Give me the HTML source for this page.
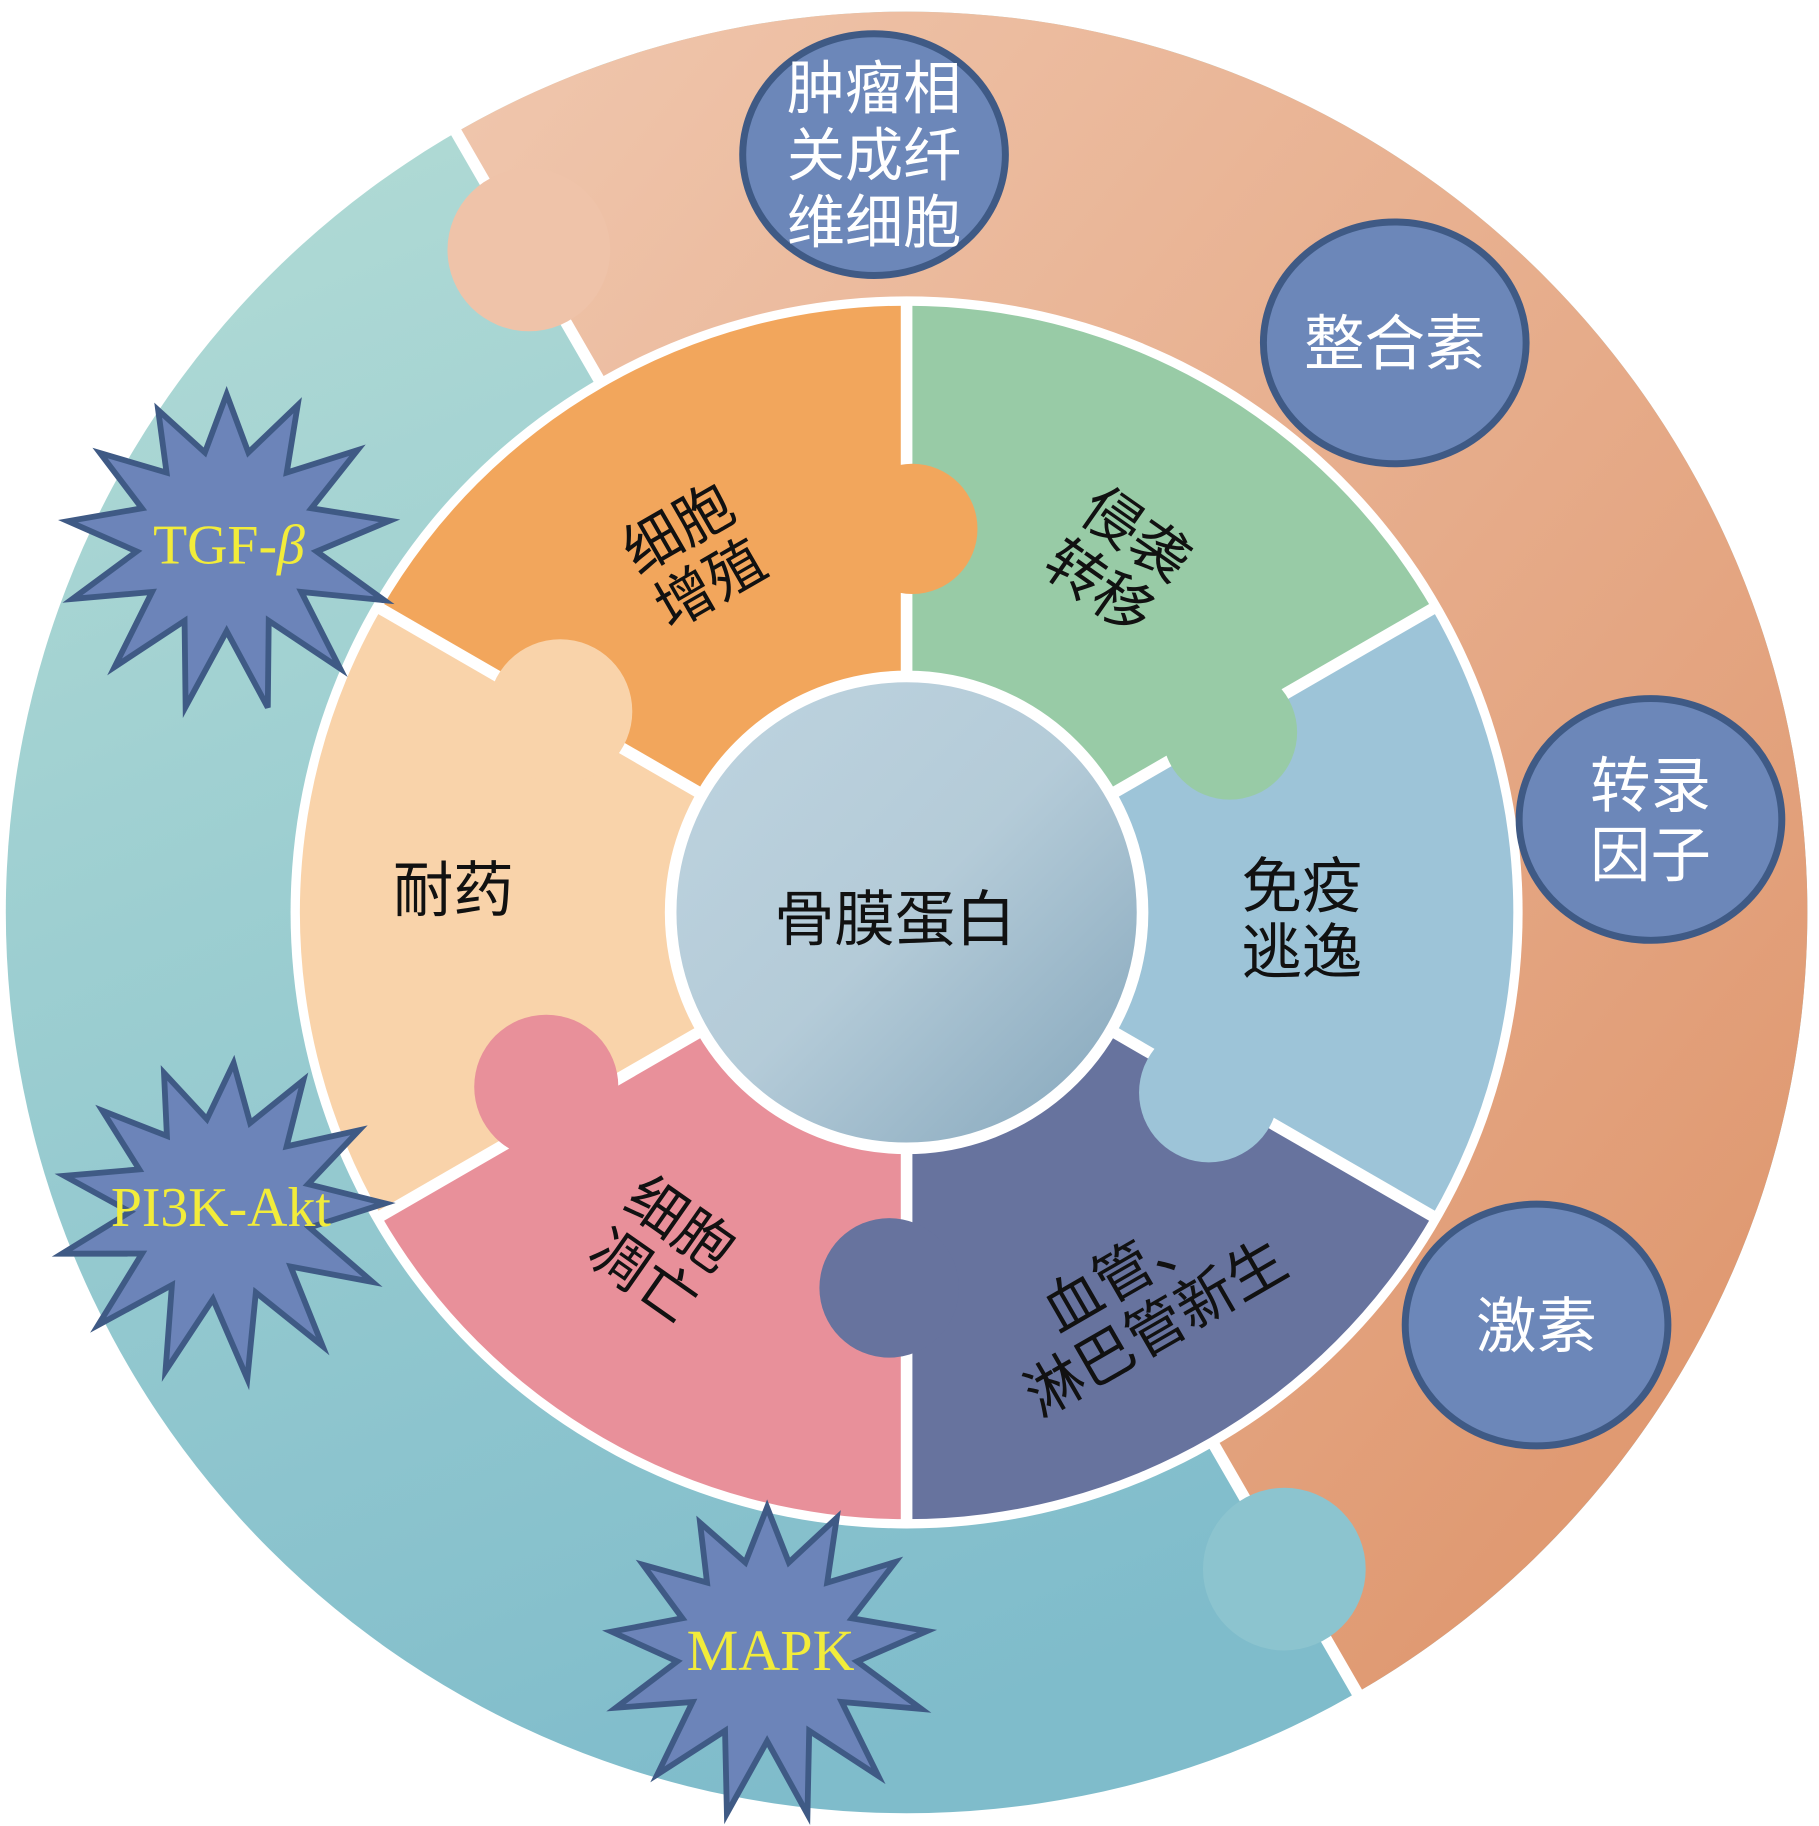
<!DOCTYPE html>
<html><head><meta charset="utf-8">
<style>
html,body{margin:0;padding:0;background:#fff;}
svg{display:block;}
.cj{font-family:"Liberation Sans","Noto Sans CJK SC",sans-serif;}
.sf{font-family:"Liberation Serif","DejaVu Serif",serif;}
</style></head>
<body>
<svg id="s" width="1819" height="1826" viewBox="0 0 1565 1571" xmlns="http://www.w3.org/2000/svg">
<defs>
<linearGradient id="peach" x1="0" y1="0" x2="1" y2="1">
<stop offset="0" stop-color="#f0c7ae"/><stop offset="1" stop-color="#dd9268"/></linearGradient>
<linearGradient id="teal" x1="0" y1="0" x2="0.4" y2="1">
<stop offset="0" stop-color="#b6ded6"/><stop offset="1" stop-color="#7fbccb"/></linearGradient>
<linearGradient id="ctr" x1="0.1" y1="0.1" x2="0.9" y2="0.9">
<stop offset="0" stop-color="#bcd2de"/><stop offset="0.5" stop-color="#b4cbd8"/><stop offset="1" stop-color="#8cacc0"/></linearGradient>
</defs>
<g id="g"></g>
</svg>
<script>
var NS="http://www.w3.org/2000/svg",g=document.getElementById('g');
var cx=780,cy=785;
function el(t,a,txt){var e=document.createElementNS(NS,t);for(var k in a)e.setAttribute(k,a[k]);if(txt)e.textContent=txt;g.appendChild(e);return e;}
function pt(r,a){a=a*Math.PI/180;return [cx+r*Math.cos(a),cy-r*Math.sin(a)];}
function sector(r1,r2,a1,a2,fill){
 var p1=pt(r2,a1),p2=pt(r2,a2),p3=pt(r1,a2),p4=pt(r1,a1);var large=(a1-a2)>180?1:0;
 el('path',{d:'M'+p1+' A'+r2+' '+r2+' 0 '+large+' 1 '+p2+' L'+p3+' A'+r1+' '+r1+' 0 '+large+' 0 '+p4+'Z',fill:fill});}
function line(r1,r2,a,w){var p=pt(r1,a),q=pt(r2,a);el('line',{x1:p[0],y1:p[1],x2:q[0],y2:q[1],stroke:'#fff','stroke-width':w});}
el('circle',{cx:cx,cy:cy,r:775,fill:'url(#teal)'});
sector(520,775,120,-60,'url(#peach)');
line(520,780,120,10);line(520,780,-60,10);
el('circle',{cx:455,cy:215,r:70,fill:'#efc3a9'});
el('circle',{cx:1105,cy:1350,r:70,fill:'#8cc4cf'});
el('circle',{cx:cx,cy:cy,r:530,fill:'#fff'});
var cols=[[150,90,'#f2a65c'],[90,30,'#98cba6'],[30,-30,'#9dc4d8'],[-30,-90,'#67739e'],[-90,-150,'#e8909a'],[210,150,'#f9d3aa']];
cols.forEach(function(c){sector(205,522,c[0],c[1],c[2]);});
[90,30,-30,-90,-150,150].forEach(function(a){line(200,525,a,10);});
el('circle',{cx:785,cy:455,r:56,fill:'#f2a65c'});
el('circle',{cx:1058,cy:630,r:58,fill:'#98cba6'});
el('circle',{cx:1040,cy:940,r:60,fill:'#9dc4d8'});
el('circle',{cx:765,cy:1108,r:60,fill:'#67739e'});
el('circle',{cx:470,cy:935,r:62,fill:'#e8909a'});
el('circle',{cx:482,cy:612,r:62,fill:'#f9d3aa'});
el('circle',{cx:cx,cy:cy,r:203,fill:'url(#ctr)',stroke:'#fff','stroke-width':10});
function ell(x,y,lines,fs){el('ellipse',{cx:x,cy:y,rx:113,ry:104,fill:'#6c87b9',stroke:'#3f5a85','stroke-width':6});
 var n=lines.length,lh=fs*1.15;lines.forEach(function(t,i){el('text',{'class':'cj',x:x,y:y+(i-(n-1)/2)*lh+fs*0.36,'text-anchor':'middle','font-size':fs,fill:'#fff'},t);});}
ell(752,133,['肿瘤相','关成纤','维细胞'],50);
ell(1200,295,['整合素'],52);
ell(1420,705,['转录','因子'],52);
ell(1322,1140,['激素'],52);
function star(x,y,ro,ri,n,rot){var pts=[];for(var i=0;i<2*n;i++){var r=i%2?ri:ro*(0.85+0.15*Math.abs(Math.sin(i*1.7)));var a=(i*180/n+rot)*Math.PI/180;pts.push((x+r*Math.cos(a)).toFixed(1)+','+(y+r*Math.sin(a)).toFixed(1));}
 el('polygon',{points:pts.join(' '),fill:'#6c84b9',stroke:'#3f5a85','stroke-width':5,'stroke-linejoin':'miter'});}
star(195,465,148,78,13,-90);
star(190,1040,148,78,13,-85);
star(660,1420,145,78,13,-90);
function ytext(x,y,t,fs){return el('text',{'class':'sf',x:x,y:y,'text-anchor':'middle','font-size':fs,fill:'#f2ec3a'},t);}
var tg=ytext(197,485,'TGF-',48);var ts=document.createElementNS(NS,'tspan');ts.setAttribute('font-style','italic');ts.textContent='β';tg.appendChild(ts);
ytext(190,1055,'PI3K-Akt',48);ytext(663,1437,'MAPK',50);
function lab(x,y,rot,lines,fs){var n=lines.length,lh=fs*1.1;var t=el('g',{transform:'translate('+x+','+y+') rotate('+rot+')'});
 lines.forEach(function(s,i){var e=document.createElementNS(NS,'text');e.setAttribute('class','cj');e.setAttribute('x',0);e.setAttribute('y',(i-(n-1)/2)*lh+fs*0.36);e.setAttribute('text-anchor','middle');e.setAttribute('font-size',fs);e.setAttribute('fill','#111');e.textContent=s;t.appendChild(e);});}
lab(597,478,-30,['细胞','增殖'],50);
lab(962,482,35,['侵袭','转移'],50);
lab(1120,790,0,['免疫','逃逸'],52);
lab(980,1118,-30,['血管、','淋巴管新生'],50);
lab(570,1075,35,['细胞','凋亡'],50);
lab(390,765,0,['耐药'],52);
lab(770,790,0,['骨膜蛋白'],52);
</script>
</body></html>
